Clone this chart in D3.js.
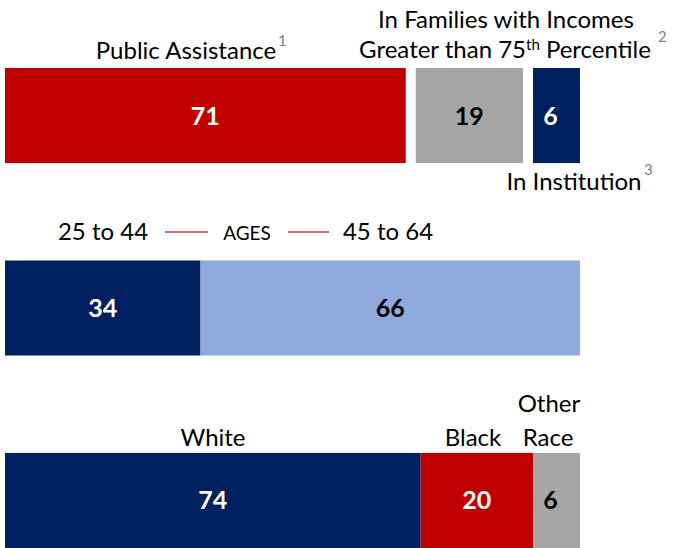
<!DOCTYPE html>
<html>
<head>
<meta charset="utf-8">
<script src="https://cdn.jsdelivr.net/npm/d3@7"></script>
<style>
  html, body { margin: 0; padding: 0; background: #fff; }
  svg { display: block; font-family: Lato, "Open Sans", sans-serif; }
</style>
</head>
<body>
<svg id="chart" width="681" height="548"></svg>
<script>
// ---- data ----
const rows = ["status", "age", "race"];
const statusCats = ["Public Assistance", "In Families with Incomes Greater than 75th Percentile", "In Institution"];
const statusValues = [71, 19, 6];
const ageCats = ["25 to 44", "45 to 64"];
const ageValues = [34, 66];
const raceCats = ["White", "Black", "Other Race"];
const raceValues = [74, 20, 6];

const statusColors = ["#C00000", "#A6A6A6", "#002060"];
const ageColors = ["#002060", "#8EA9DB"];
const raceColors = ["#002060", "#C00000", "#A6A6A6"];

const W = 681, H = 548;
const svg = d3.select("#chart");

const y = d3.scaleBand().domain(rows).range([68, 548]).paddingInner(0.506).paddingOuter(0);
const x0 = 5, x1 = 580, minW = 47;

function layout(values, gap) {
  const small = values.filter(v => v < 8).length;
  const large = d3.sum(values.filter(v => v >= 8));
  const avail = (x1 - x0) - gap * (values.length - 1) - minW * small;
  const x = d3.scaleLinear().domain([0, large]).range([0, avail]);
  let pos = x0;
  return values.map(v => {
    const w = v < 8 ? minW : x(v);
    const seg = { x: pos, w, v };
    pos += w + gap;
    return seg;
  });
}

function drawRow(row, values, colors, gap) {
  const segs = layout(values, gap);
  const g = svg.append("g");
  g.selectAll("rect").data(segs).join("rect")
    .attr("x", d => d.x).attr("y", y(row))
    .attr("width", d => d.w).attr("height", y.bandwidth())
    .attr("fill", (d, i) => colors[i]);
  g.selectAll("text").data(segs).join("text")
    .attr("x", d => d.x + d.w / 2 - (d.v < 8 ? 6 : 0))
    .attr("y", y(row) + y.bandwidth() / 2)
    .attr("dy", "0.36em")
    .attr("text-anchor", "middle")
    .attr("font-size", 25).attr("font-weight", 700)
    .attr("fill", (d, i) => (colors[i] === "#A6A6A6" || colors[i] === "#8EA9DB") ? "#000" : "#fff")
    .text(d => d.v);
  return segs;
}

const sSeg = drawRow("status", statusValues, statusColors, 10);
const aSeg = drawRow("age", ageValues, ageColors, 0);
const rSeg = drawRow("race", raceValues, raceColors, 0);

const FS = 24;
function label(xp, yp, txt, anchor, size) {
  return svg.append("text").attr("x", xp).attr("y", yp)
    .attr("text-anchor", anchor || "middle")
    .attr("font-size", size || FS).attr("fill", "#000").text(txt);
}
function sup(xp, yp, txt) {
  return svg.append("text").attr("x", xp).attr("y", yp)
    .attr("font-size", 15).attr("fill", "#808080").text(txt);
}

// Row 1 labels
label(186, 59, statusCats[0]);
sup(278, 46, "1");
label(506, 28, "In Families with Incomes");
const t2 = label(505, 58, "", "middle");
t2.append("tspan").text("Greater than 75");
t2.append("tspan").attr("font-size", 15).attr("dy", -8).text("th");
t2.append("tspan").attr("dy", 8).text(" Percentile");
sup(658, 42, "2");
label(574, 190, statusCats[2]);
sup(644, 175, "3");

// Row 2 labels
label(103, 240, ageCats[0]);
label(247, 240, "AGES", "middle", 19);
label(388, 240, ageCats[1]);
svg.append("line").attr("x1", 165).attr("x2", 208).attr("y1", 232).attr("y2", 232)
  .attr("stroke", "#D0393B").attr("stroke-width", 1.5);
svg.append("line").attr("x1", 288).attr("x2", 329).attr("y1", 232).attr("y2", 232)
  .attr("stroke", "#D0393B").attr("stroke-width", 1.5);

// Row 3 labels
label(213, 446, raceCats[0]);
label(473, 446, raceCats[1]);
label(549, 412, "Other");
label(548, 446, "Race");
</script>
</body>
</html>
